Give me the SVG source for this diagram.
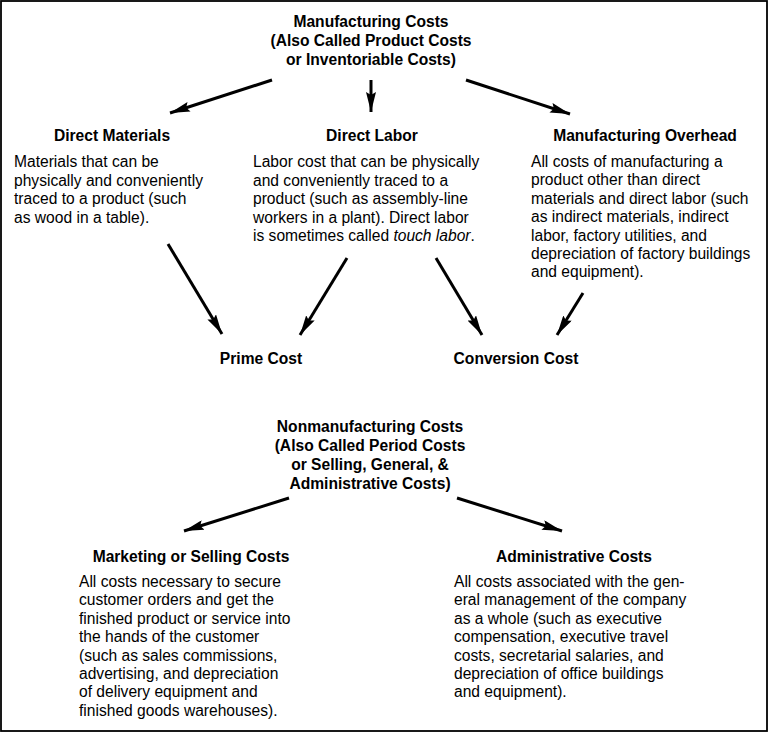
<svg xmlns="http://www.w3.org/2000/svg" width="769" height="733" viewBox="0 0 769 733">
<defs>
<style>
text{font-family:"Liberation Sans",Arial,Helvetica,sans-serif;font-size:15.6px;fill:#000}
.h{font-weight:bold;text-anchor:middle}
.c{stroke:#000;stroke-width:3;fill:none;marker-end:url(#ah)}
</style>
<marker id="ah" viewBox="0 0 20 10" refX="20" refY="5" markerWidth="20" markerHeight="10" markerUnits="userSpaceOnUse" orient="auto">
<path d="M0,0 L20,5 L0,10 L3,5 z" fill="#000"/>
</marker>
</defs>
<rect x="1" y="1" width="766" height="730" fill="#fff" stroke="#000" stroke-width="1.8"/>

<g id="connectors">
<line class="c" x1="272" y1="80" x2="170" y2="113"/>
<line class="c" x1="371" y1="80" x2="371" y2="112"/>
<line class="c" x1="466" y1="80" x2="570" y2="114"/>
<line class="c" x1="168" y1="244" x2="222" y2="334"/>
<line class="c" x1="347" y1="258" x2="300" y2="335"/>
<line class="c" x1="436" y1="258" x2="482" y2="335"/>
<line class="c" x1="583" y1="293" x2="557" y2="335"/>
<line class="c" x1="289" y1="498" x2="184" y2="531"/>
<line class="c" x1="457" y1="498" x2="562" y2="531"/>
</g>

<g id="manufacturing-costs">
<text class="h" x="371" y="27">Manufacturing Costs</text>
<text class="h" x="371" y="46">(Also Called Product Costs</text>
<text class="h" x="371" y="65">or Inventoriable Costs)</text>
</g>

<g id="direct-materials">
<text class="h" x="112" y="141">Direct Materials</text>
<text x="14" y="167"><tspan x="14">Materials that can be</tspan><tspan x="14" dy="18.5">physically and conveniently</tspan><tspan x="14" dy="18.5">traced to a product (such</tspan><tspan x="14" dy="18.5">as wood in a table).</tspan></text>
</g>

<g id="direct-labor">
<text class="h" x="372" y="141">Direct Labor</text>
<text x="253" y="167"><tspan x="253">Labor cost that can be physically</tspan><tspan x="253" dy="18.5">and conveniently traced to a</tspan><tspan x="253" dy="18.5">product (such as assembly-line</tspan><tspan x="253" dy="18.5">workers in a plant). Direct labor</tspan><tspan x="253" dy="18.5">is sometimes called <tspan font-style="italic">touch labor</tspan>.</tspan></text>
</g>

<g id="manufacturing-overhead">
<text class="h" x="645" y="141">Manufacturing Overhead</text>
<text x="531" y="167"><tspan x="531">All costs of manufacturing a</tspan><tspan x="531" dy="18.4">product other than direct</tspan><tspan x="531" dy="18.4">materials and direct labor (such</tspan><tspan x="531" dy="18.4">as indirect materials, indirect</tspan><tspan x="531" dy="18.4">labor, factory utilities, and</tspan><tspan x="531" dy="18.4">depreciation of factory buildings</tspan><tspan x="531" dy="18.4">and equipment).</tspan></text>
</g>

<g id="prime-cost">
<text class="h" x="261" y="364">Prime Cost</text>
</g>

<g id="conversion-cost">
<text class="h" x="516" y="364">Conversion Cost</text>
</g>

<g id="nonmanufacturing-costs">
<text class="h" x="370" y="432">Nonmanufacturing Costs</text>
<text class="h" x="370" y="451">(Also Called Period Costs</text>
<text class="h" x="370" y="470">or Selling, General, &amp;</text>
<text class="h" x="370" y="489">Administrative Costs)</text>
</g>

<g id="marketing-selling-costs">
<text class="h" x="191" y="562">Marketing or Selling Costs</text>
<text x="79" y="587"><tspan x="79">All costs necessary to secure</tspan><tspan x="79" dy="18.4">customer orders and get the</tspan><tspan x="79" dy="18.4">finished product or service into</tspan><tspan x="79" dy="18.4">the hands of the customer</tspan><tspan x="79" dy="18.4">(such as sales commissions,</tspan><tspan x="79" dy="18.4">advertising, and depreciation</tspan><tspan x="79" dy="18.4">of delivery equipment and</tspan><tspan x="79" dy="18.4">finished goods warehouses).</tspan></text>
</g>

<g id="administrative-costs">
<text class="h" x="574" y="562">Administrative Costs</text>
<text x="454" y="587"><tspan x="454">All costs associated with the gen-</tspan><tspan x="454" dy="18.4">eral management of the company</tspan><tspan x="454" dy="18.4">as a whole (such as executive</tspan><tspan x="454" dy="18.4">compensation, executive travel</tspan><tspan x="454" dy="18.4">costs, secretarial salaries, and</tspan><tspan x="454" dy="18.4">depreciation of office buildings</tspan><tspan x="454" dy="18.4">and equipment).</tspan></text>
</g>
</svg>
